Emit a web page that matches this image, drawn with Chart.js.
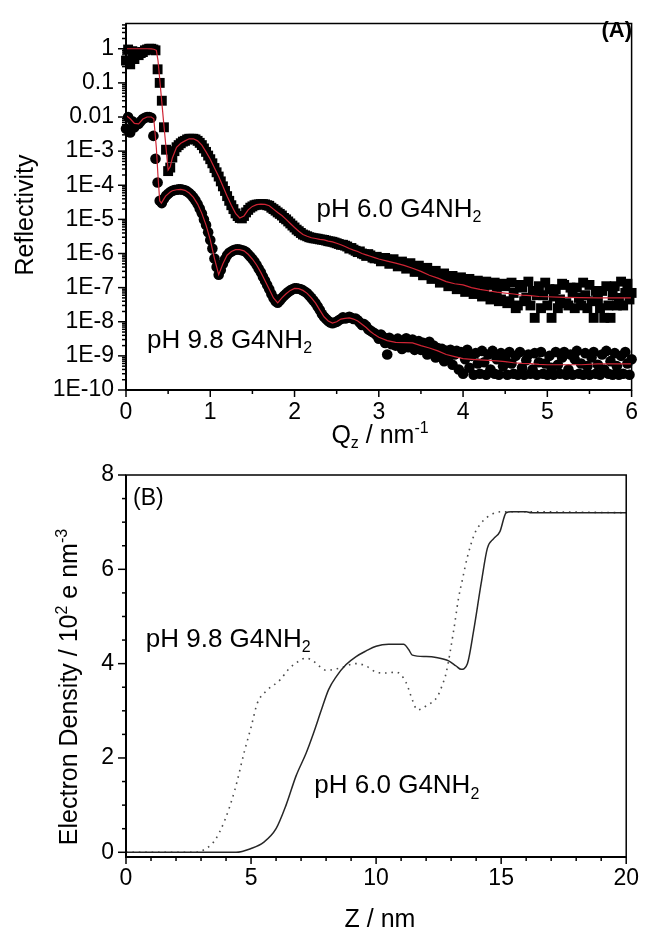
<!DOCTYPE html>
<html>
<head>
<meta charset="utf-8">
<script src="https://cdn.jsdelivr.net/npm/chart.js@4.4.1/dist/chart.umd.min.js"></script>
<style>
  html, body { margin: 0; padding: 0; background: #fff; }
  #wrap { position: relative; width: 649px; height: 930px; }
  canvas { position: absolute; left: 0; }
  #reflectivity { top: 0; }
  #density { top: 450px; }
</style>
</head>
<body>
<div id="wrap">
  <canvas id="reflectivity" width="649" height="450"></canvas>
  <canvas id="density" width="649" height="480"></canvas>
</div>
<script>
// ---- (A) reflectivity data: measured points (shared Q grid) ----
const qData = [
  0, 0.025, 0.05, 0.075, 0.1, 0.125, 0.15, 0.175, 0.2, 0.225,
  0.25, 0.275, 0.3, 0.325, 0.35, 0.375, 0.4, 0.425, 0.45, 0.475,
  0.5, 0.525, 0.55, 0.575, 0.6, 0.625, 0.65, 0.675, 0.7, 0.725,
  0.75, 0.775, 0.8, 0.825, 0.85, 0.875, 0.9, 0.925, 0.95, 0.975,
  1.0, 1.025, 1.05, 1.075, 1.1, 1.125, 1.15, 1.175, 1.2, 1.225,
  1.25, 1.275, 1.3, 1.325, 1.35, 1.375, 1.4, 1.425, 1.45, 1.475,
  1.5, 1.525, 1.55, 1.575, 1.6, 1.625, 1.65, 1.675, 1.7, 1.725,
  1.75, 1.775, 1.8, 1.825, 1.85, 1.875, 1.9, 1.925, 1.95, 1.975,
  2.0, 2.025, 2.05, 2.075, 2.1, 2.125, 2.15, 2.175, 2.2, 2.225,
  2.25, 2.275, 2.3, 2.325, 2.35, 2.375, 2.4, 2.425, 2.45, 2.475,
  2.5, 2.525, 2.55, 2.575, 2.6, 2.625, 2.65, 2.675, 2.7, 2.725,
  2.75, 2.775, 2.8, 2.825, 2.85, 2.875, 2.9, 2.925, 2.95, 2.975,
  3.0, 3.025, 3.05, 3.075, 3.1, 3.125, 3.15, 3.175, 3.2, 3.225,
  3.25, 3.275, 3.3, 3.325, 3.35, 3.375, 3.4, 3.425, 3.45, 3.475,
  3.5, 3.525, 3.55, 3.575, 3.6, 3.625, 3.65, 3.675, 3.7, 3.725,
  3.75, 3.775, 3.8, 3.825, 3.85, 3.875, 3.9, 3.925, 3.95, 3.975,
  4.0, 4.025, 4.05, 4.075, 4.1, 4.125, 4.15, 4.175, 4.2, 4.225,
  4.25, 4.275, 4.3, 4.325, 4.35, 4.375, 4.4, 4.425, 4.45, 4.475,
  4.5, 4.525, 4.55, 4.575, 4.6, 4.625, 4.65, 4.675, 4.7, 4.725,
  4.75, 4.775, 4.8, 4.825, 4.85, 4.875, 4.9, 4.925, 4.95, 4.975,
  5.0, 5.025, 5.05, 5.075, 5.1, 5.125, 5.15, 5.175, 5.2, 5.225,
  5.25, 5.275, 5.3, 5.325, 5.35, 5.375, 5.4, 5.425, 5.45, 5.475,
  5.5, 5.525, 5.55, 5.575, 5.6, 5.625, 5.65, 5.675, 5.7, 5.725,
  5.75, 5.775, 5.8, 5.825, 5.85, 5.875, 5.9, 5.925, 5.95, 5.975,
  6.0
];

const rData60 = [
  0.45, 0.95, 0.35, 0.85, 0.5, 0.8, 0.65, 0.75, 0.8, 0.9,
  0.95, 1.0, 1.0, 0.95, 0.9, 0.25, 0.1, 0.03, 5.0e-3, 1.1e-3,
  2.6e-4, 3.3e-4, 6.5e-4, 1.0e-3, 1.3e-3, 1.5e-3, 1.7e-3, 1.9e-3, 2.0e-3, 2.2e-3,
  2.3e-3, 2.3e-3, 2.3e-3, 2.2e-3, 2.0e-3, 1.75e-3, 1.5e-3, 1.2e-3, 9.5e-4, 7.4e-4,
  5.8e-4, 4.4e-4, 3.2e-4, 2.4e-4, 1.8e-4, 1.3e-4, 9.3e-5, 6.8e-5, 4.8e-5, 3.5e-5,
  2.6e-5, 2.0e-5, 1.5e-5, 1.25e-5, 1.1e-5, 1.07e-5, 1.26e-5, 1.6e-5, 1.9e-5, 2.2e-5,
  2.4e-5, 2.6e-5, 2.7e-5, 2.75e-5, 2.8e-5, 2.8e-5, 2.75e-5, 2.6e-5, 2.5e-5, 2.2e-5,
  2.0e-5, 1.8e-5, 1.6e-5, 1.45e-5, 1.3e-5, 1.1e-5, 1.0e-5, 8.7e-6, 7.6e-6, 6.6e-6,
  5.8e-6, 5.0e-6, 4.5e-6, 4.0e-6, 3.6e-6, 3.4e-6, 3.2e-6, 3.0e-6, 2.9e-6, 2.8e-6,
  2.75e-6, 2.7e-6, 2.6e-6, 2.55e-6, 2.5e-6, 2.4e-6, 2.3e-6, 2.25e-6, 2.2e-6, 2.1e-6,
  2.0e-6, 1.9e-6, 1.8e-6, 1.8e-6, 1.7e-6, 1.6e-6, 1.4e-6, 1.45e-6, 1.3e-6, 1.2e-6,
  1.1e-6, 1.15e-6, 1.0e-6, 9.5e-7, 8.5e-7, 9.6e-7, 8.8e-7, 7.6e-7, 7.2e-7, 8.0e-7,
  7.0e-7, 5.9e-7, 6.0e-7, 7.4e-7, 6.6e-7, 5.0e-7, 5.2e-7, 6.8e-7, 5.6e-7, 4.2e-7,
  4.4e-7, 5.8e-7, 5.0e-7, 3.6e-7, 3.9e-7, 5.2e-7, 4.2e-7, 2.9e-7, 3.0e-7, 4.4e-7,
  3.5e-7, 2.3e-7, 2.4e-7, 3.8e-7, 2.9e-7, 1.8e-7, 1.9e-7, 3.1e-7, 2.4e-7, 1.4e-7,
  1.5e-7, 2.6e-7, 2.0e-7, 1.1e-7, 1.2e-7, 2.2e-7, 1.7e-7, 9.0e-8, 1.0e-7, 2.0e-7,
  1.3e-7, 7.5e-8, 8.5e-8, 1.8e-7, 1.4e-7, 6.5e-8, 7.5e-8, 1.6e-7, 1.0e-7, 5.5e-8,
  6.5e-8, 1.5e-7, 1.2e-7, 4.5e-8, 5.5e-8, 1.4e-7, 8.0e-8, 4.0e-8, 4.5e-8, 1.3e-7,
  1.1e-7, 3.5e-8, 4.0e-8, 1.4e-7, 7.0e-8, 2.5e-8, 3.0e-8, 1.2e-7, 1.0e-7, 4.0e-8,
  5.0e-8, 1.5e-7, 3.0e-8, 8.0e-8, 1.3e-8, 6.0e-8, 1.1e-7, 2.5e-8, 6.0e-8, 1.4e-7,
  3.0e-8, 9.0e-8, 1.3e-8, 5.5e-8, 9.0e-8, 2.5e-8, 4.5e-8, 1.3e-7, 1.2e-7, 3.5e-8,
  3.0e-8, 1.0e-7, 7.0e-8, 2.5e-8, 1.0e-7, 5.0e-8, 3.0e-8, 1.4e-7, 6.0e-8, 2.5e-8,
  1.2e-7, 4.0e-8, 1.3e-8, 8.0e-8, 4.5e-8, 2.5e-8, 8.0e-8, 1.3e-8, 1.1e-7, 3.0e-8,
  1.3e-8, 6.0e-8, 1.1e-7, 3.0e-8, 5.0e-8, 1.5e-7, 3.0e-8, 7.0e-8, 1.3e-7, 4.5e-8,
  7.0e-8
];

const rData98 = [
  4.5e-3, 0.010, 3.5e-3, 7.5e-3, 5.0e-3, 6.0e-3, 6.3e-3, 7.5e-3, 8.7e-3, 9.5e-3,
  0.010, 0.010, 9.5e-3, 2.8e-3, 6.0e-4, 1.2e-4, 3.5e-5, 3.0e-5, 4.0e-5, 4.9e-5,
  5.6e-5, 6.3e-5, 6.9e-5, 7.2e-5, 7.4e-5, 7.6e-5, 7.6e-5, 7.4e-5, 7.1e-5, 6.6e-5,
  5.9e-5, 5.2e-5, 4.4e-5, 3.6e-5, 2.8e-5, 2.1e-5, 1.5e-5, 1.0e-5, 6.8e-6, 4.2e-6,
  2.5e-6, 1.4e-6, 7.1e-7, 4.0e-7, 2.4e-7, 3.3e-7, 5.0e-7, 6.8e-7, 8.9e-7, 1.05e-6,
  1.15e-6, 1.25e-6, 1.3e-6, 1.32e-6, 1.3e-6, 1.25e-6, 1.2e-6, 1.1e-6, 9.5e-7, 8.2e-7,
  6.9e-7, 5.7e-7, 4.6e-7, 3.6e-7, 2.8e-7, 2.1e-7, 1.6e-7, 1.2e-7, 8.9e-8, 6.5e-8,
  5.0e-8, 4.0e-8, 3.6e-8, 4.2e-8, 5.0e-8, 5.8e-8, 6.6e-8, 7.5e-8, 8.3e-8, 9.0e-8,
  9.5e-8, 9.5e-8, 9.3e-8, 8.9e-8, 8.3e-8, 7.6e-8, 6.8e-8, 5.9e-8, 5.0e-8, 4.2e-8,
  3.5e-8, 2.8e-8, 2.2e-8, 1.7e-8, 1.4e-8, 1.2e-8, 1.05e-8, 9.5e-9, 9.1e-9, 9.5e-9,
  1.0e-8, 1.1e-8, 1.2e-8, 1.35e-8, 1.25e-8, 1.3e-8, 1.4e-8, 1.3e-8, 1.2e-8, 1.25e-8,
  1.1e-8, 9.5e-9, 8.0e-9, 8.5e-9, 7.5e-9, 6.0e-9, 5.5e-9, 5.0e-9, 4.6e-9, 4.0e-9,
  3.2e-9, 4.2e-9, 3.6e-9, 2.4e-9, 1.1e-9, 3.4e-9, 2.2e-9, 2.9e-9, 2.0e-9, 3.2e-9,
  2.8e-9, 1.6e-9, 2.4e-9, 3.3e-9, 1.8e-9, 2.6e-9, 3.0e-9, 1.5e-9, 2.2e-9, 2.7e-9,
  1.5e-9, 2.4e-9, 1.9e-9, 1.1e-9, 2.6e-9, 1.4e-9, 2.0e-9, 9.0e-10, 1.7e-9, 1.2e-9,
  1.6e-9, 7.0e-10, 1.4e-9, 9.0e-10, 1.5e-9, 5.5e-10, 1.1e-9, 1.4e-9, 4.0e-10, 1.3e-9,
  3.0e-10, 8.0e-10, 1.5e-9, 4.5e-10, 1.0e-9, 2.8e-10, 1.2e-9, 6.0e-10, 3.0e-10, 1.4e-9,
  6.5e-10, 2.8e-10, 1.1e-9, 4.0e-10, 1.4e-9, 3.0e-10, 8.0e-10, 2.8e-10, 1.2e-9, 5.0e-10,
  9.0e-10, 2.8e-10, 1.3e-9, 6.0e-10, 3.0e-10, 1.0e-9, 2.8e-10, 1.3e-9, 4.5e-10, 2.8e-10,
  7.5e-10, 1.1e-9, 3.0e-10, 4.0e-10, 1.2e-9, 2.8e-10, 6.5e-10, 1.3e-9, 3.0e-10, 6.0e-10,
  2.8e-10, 1.0e-9, 4.5e-10, 2.8e-10, 1.3e-9, 5.5e-10, 3.0e-10, 9.0e-10, 1.3e-9, 2.8e-10,
  4.0e-10, 1.1e-9, 2.8e-10, 8.0e-10, 1.4e-9, 3.0e-10, 6.0e-10, 2.8e-10, 1.2e-9, 5.0e-10,
  2.8e-10, 9.0e-10, 1.3e-9, 3.0e-10, 5.5e-10, 2.8e-10, 1.1e-9, 4.0e-10, 1.4e-9, 3.0e-10,
  7.0e-10, 2.8e-10, 1.2e-9, 5.0e-10, 2.8e-10, 1.0e-9, 3.0e-10, 1.3e-9, 6.0e-10, 2.8e-10,
  8.0e-10
];

// ---- (A) model fits (red lines) ----
const qFit = [
  0, 0.05, 0.1, 0.15, 0.2, 0.25, 0.3, 0.33, 0.36, 0.38,
  0.4, 0.42, 0.45, 0.47, 0.5, 0.525, 0.55, 0.6, 0.65, 0.7,
  0.75, 0.8, 0.85, 0.9, 0.95, 1.0, 1.05, 1.1, 1.15, 1.2,
  1.25, 1.3, 1.35, 1.4, 1.45, 1.5, 1.55, 1.6, 1.65, 1.7,
  1.75, 1.8, 1.85, 1.9, 1.95, 2.0, 2.05, 2.1, 2.15, 2.2,
  2.25, 2.3, 2.35, 2.4, 2.45, 2.5, 2.55, 2.6, 2.65, 2.7,
  2.75, 2.8, 2.85, 2.9, 2.95, 3.0, 3.1, 3.2, 3.3, 3.4,
  3.5, 3.6, 3.7, 3.8, 3.9, 4.0, 4.1, 4.2, 4.3, 4.4,
  4.5, 4.6, 4.7, 4.8, 4.9, 5.0, 5.2, 5.4, 5.6, 5.8,
  6.0
];

const rFit60 = [
  1.0, 1.0, 1.0, 1.0, 1.0, 1.0, 0.99, 0.97, 0.9, 0.45,
  0.13, 0.037, 5.7e-3, 1.7e-3, 2.8e-4, 3.5e-4, 6.3e-4, 1.3e-3, 1.7e-3, 2.0e-3,
  2.3e-3, 2.3e-3, 2.0e-3, 1.5e-3, 9.5e-4, 5.8e-4, 3.2e-4, 1.8e-4, 9.3e-5, 4.8e-5,
  2.6e-5, 1.5e-5, 1.1e-5, 1.26e-5, 1.9e-5, 2.4e-5, 2.7e-5, 2.8e-5, 2.75e-5, 2.5e-5,
  2.0e-5, 1.6e-5, 1.3e-5, 1.0e-5, 7.6e-6, 5.8e-6, 4.5e-6, 3.6e-6, 3.2e-6, 2.9e-6,
  2.75e-6, 2.6e-6, 2.5e-6, 2.3e-6, 2.2e-6, 2.0e-6, 1.8e-6, 1.6e-6, 1.4e-6, 1.26e-6,
  1.15e-6, 1.0e-6, 9.1e-7, 8.3e-7, 7.6e-7, 6.9e-7, 6.0e-7, 5.2e-7, 4.5e-7, 3.7e-7,
  3.0e-7, 2.3e-7, 1.9e-7, 1.5e-7, 1.3e-7, 1.2e-7, 1.0e-7, 8.9e-8, 8.1e-8, 7.4e-8,
  6.9e-8, 6.5e-8, 6.0e-8, 5.8e-8, 5.5e-8, 5.4e-8, 5.2e-8, 5.1e-8, 5.0e-8, 5.0e-8,
  5.0e-8
];

const rFit98 = [
  0.011, 8.9e-3, 6.5e-3, 6.3e-3, 8.7e-3, 0.010, 0.010, 8.9e-3, 1.26e-3, 1.8e-4,
  3.5e-5, 3.0e-5, 4.0e-5, 4.8e-5, 5.6e-5, 6.3e-5, 6.9e-5, 7.4e-5, 7.6e-5, 7.1e-5,
  5.9e-5, 4.4e-5, 2.8e-5, 1.5e-5, 6.8e-6, 2.5e-6, 7.1e-7, 2.4e-7, 5.0e-7, 8.9e-7,
  1.15e-6, 1.3e-6, 1.3e-6, 1.2e-6, 9.5e-7, 6.9e-7, 4.6e-7, 2.8e-7, 1.6e-7, 8.9e-8,
  5.0e-8, 3.6e-8, 5.0e-8, 6.6e-8, 8.3e-8, 9.5e-8, 9.3e-8, 8.3e-8, 6.8e-8, 5.0e-8,
  3.5e-8, 2.2e-8, 1.4e-8, 1.05e-8, 9.1e-9, 1.0e-8, 1.2e-8, 1.26e-8, 1.3e-8, 1.2e-8,
  1.05e-8, 8.5e-9, 6.8e-9, 5.2e-9, 4.2e-9, 3.5e-9, 2.8e-9, 2.5e-9, 2.45e-9, 2.4e-9,
  2.0e-9, 1.7e-9, 1.4e-9, 1.1e-9, 9.5e-10, 8.3e-10, 7.9e-10, 7.6e-10, 7.4e-10, 7.1e-10,
  6.8e-10, 6.3e-10, 6.0e-10, 5.9e-10, 5.6e-10, 5.5e-10, 5.5e-10, 5.5e-10, 5.8e-10, 5.8e-10,
  5.8e-10
];

// ---- (B) electron density profiles ----
const zSolid = [0, 4.4, 5.0, 5.5, 6.0, 6.4, 6.8, 7.2, 7.5, 7.8,
  8.1, 8.4, 8.8, 9.2, 9.6, 10.0, 10.5, 11.1, 11.3, 11.45,
  12.0, 12.4, 12.9, 13.2, 13.4, 13.65, 13.9, 14.2, 14.45, 14.7,
  14.95, 15.2, 15.4, 16.0, 16.2, 20];
const rhoSolid = [0, 0, 0.08, 0.21, 0.5, 1.0, 1.62, 2.1, 2.53, 3.0,
  3.45, 3.72, 3.98, 4.15, 4.27, 4.37, 4.41, 4.41, 4.3, 4.18,
  4.15, 4.13, 4.06, 3.95, 3.88, 4.0, 4.7, 5.7, 6.45, 6.65,
  6.8, 7.2, 7.22, 7.22, 7.2, 7.2];

const zDotted = [0, 2.8, 3.2, 3.55, 3.95, 4.35, 4.75, 5.0, 5.25, 5.65,
  6.15, 6.5, 6.9, 7.2, 7.5, 8.0, 8.5, 9.2, 9.6, 10.0,
  10.4, 10.8, 11.2, 11.45, 11.65, 12.05, 12.45, 12.65, 12.8, 13.1,
  13.3, 13.45, 13.65, 13.95, 14.2, 14.45, 15.0, 16.0, 20];
const rhoDotted = [0, 0, 0.08, 0.25, 0.68, 1.32, 2.17, 2.65, 3.16, 3.44,
  3.65, 3.88, 4.05, 4.12, 4.05, 3.86, 3.9, 4.0, 3.95, 3.82,
  3.8, 3.82, 3.6, 3.23, 3.02, 3.12, 3.3, 3.55, 3.8, 4.7,
  5.4, 5.78, 6.26, 6.77, 6.98, 7.11, 7.22, 7.22, 7.2];

// ---- tick values / labels ----
const reflTicks = [1, 0.1, 0.01, 1e-3, 1e-4, 1e-5, 1e-6, 1e-7, 1e-8, 1e-9, 1e-10];
const reflLabels = ['1', '0.1', '0.01', '1E-3', '1E-4', '1E-5', '1E-6', '1E-7', '1E-8', '1E-9', '1E-10'];
const qTicks = [0, 1, 2, 3, 4, 5, 6];
const zTicks = [0, 5, 10, 15, 20];
const rhoTicks = [0, 2, 4, 6, 8];

const FONT = "'Liberation Sans', Arial, sans-serif";
const RED = '#cf2434';
Chart.defaults.font.family = FONT;
Chart.defaults.color = '#000';

const pts = (xs, ys) => xs.map((x, i) => ({ x, y: ys[i] }));

// minor tick positions (axis decoration only)
const logMinor = [];
for (let e = -10; e <= 0; e++) {
  for (let m = 2; m <= 9; m++) logMinor.push(m * Math.pow(10, e));
}
const minorSteps = (lo, hi, step, skip) => {
  const out = [];
  for (let v = lo; v <= hi + 1e-9; v += step) {
    const r = Math.round(v * 100) / 100;
    if (Math.abs(r / skip - Math.round(r / skip)) > 1e-6) out.push(r);
  }
  return out;
};

// draw text made of normal / sub / sup pieces
function drawRich(ctx, parts, size, weight, align) {
  const small = Math.round(size * 0.62);
  const fontFor = p => `${weight} ${p.s ? small : size}px ${FONT}`;
  let w = 0;
  parts.forEach(p => { ctx.font = fontFor(p); w += ctx.measureText(p.t).width; });
  let cx = align === 'center' ? -w / 2 : align === 'right' ? -w : 0;
  parts.forEach(p => {
    ctx.font = fontFor(p);
    const dy = p.s === 'sub' ? size * 0.2 : p.s === 'sup' ? -size * 0.42 : 0;
    ctx.fillText(p.t, cx, dy);
    cx += ctx.measureText(p.t).width;
  });
}

// box + major/minor tick marks
const axisFrame = ticks => ({
  id: 'axisFrame',
  afterDraw(chart) {
    const { ctx, chartArea: a, scales: { x, y } } = chart;
    ctx.save();
    ctx.strokeStyle = '#000';
    ctx.lineWidth = 1.5;
    ctx.strokeRect(a.left, a.top, a.right - a.left, a.bottom - a.top);
    ctx.lineWidth = 2;
    ctx.beginPath();
    ctx.moveTo(a.left, a.top);
    ctx.lineTo(a.left, a.bottom);
    ctx.lineTo(a.right, a.bottom);
    ctx.stroke();
    ctx.lineWidth = 1.5;
    const mark = (scale, values, len) => {
      values.forEach(v => {
        const p = scale.getPixelForValue(v);
        ctx.beginPath();
        if (scale.isHorizontal()) {
          ctx.moveTo(p, a.bottom);
          ctx.lineTo(p, a.bottom + len);
        } else {
          ctx.moveTo(a.left - len, p);
          ctx.lineTo(a.left, p);
        }
        ctx.stroke();
      });
    };
    mark(x, ticks.xMajor, 7);
    mark(x, ticks.xMinor, 4);
    mark(y, ticks.yMajor, 8);
    mark(y, ticks.yMinor, 4);
    ctx.restore();
  }
});

// titles and in-plot labels
const chartText = items => ({
  id: 'chartText',
  afterDraw(chart) {
    const { ctx, scales: { x, y } } = chart;
    ctx.save();
    ctx.fillStyle = '#000';
    ctx.textAlign = 'left';
    ctx.textBaseline = 'alphabetic';
    items.forEach(t => {
      const px = t.at ? x.getPixelForValue(t.at[0]) : t.px;
      const py = t.at ? y.getPixelForValue(t.at[1]) : t.py;
      ctx.save();
      ctx.translate(px, py);
      if (t.rotate) ctx.rotate(-Math.PI / 2);
      drawRich(ctx, t.parts, t.size, t.weight || 'normal', t.align || 'left');
      ctx.restore();
    });
    ctx.restore();
  }
});

const tickFont = { size: 23, lineHeight: 1 };
const ph60 = [{ t: 'pH 6.0 G4NH' }, { t: '2', s: 'sub' }];
const ph98 = [{ t: 'pH 9.8 G4NH' }, { t: '2', s: 'sub' }];

// ---------- (A) ----------
new Chart(document.getElementById('reflectivity'), {
  type: 'scatter',
  data: {
    datasets: [
      { label: 'fit pH 6.0', data: pts(qFit, rFit60), showLine: true, borderColor: RED,
        borderWidth: 1.2, pointRadius: 0, order: 0 },
      { label: 'fit pH 9.8', data: pts(qFit, rFit98), showLine: true, borderColor: RED,
        borderWidth: 1.2, pointRadius: 0, order: 1 },
      { label: 'pH 9.8 G4NH2', data: pts(qData, rData98), pointStyle: 'circle', pointRadius: 5.3,
        backgroundColor: '#000', borderWidth: 0, clip: false, order: 2 },
      { label: 'pH 6.0 G4NH2', data: pts(qData, rData60), pointStyle: 'rect', pointRadius: 7,
        backgroundColor: '#000', borderWidth: 0, clip: false, order: 3 }
    ]
  },
  options: {
    responsive: false,
    animation: false,
    devicePixelRatio: 1,
    layout: { padding: { left: 0, right: 14, top: 12, bottom: 0 } },
    plugins: { legend: { display: false }, tooltip: { enabled: false } },
    scales: {
      x: {
        type: 'linear', min: 0, max: 6,
        grid: { display: false, drawTicks: false },
        border: { display: false },
        afterBuildTicks: s => { s.ticks = qTicks.map(v => ({ value: v })); },
        afterFit: s => { s.height = 60; },
        ticks: { font: tickFont, color: '#000', padding: 11, autoSkip: false, maxRotation: 0,
          callback: v => String(v) }
      },
      y: {
        type: 'logarithmic', min: 1e-10, max: 5.5,
        grid: { display: false, drawTicks: false },
        border: { display: false },
        afterBuildTicks: s => { s.ticks = reflTicks.map(v => ({ value: v })); },
        afterFit: s => { s.width = 126; },
        ticks: { font: tickFont, color: '#000', padding: 12, autoSkip: false,
          callback: v => { const i = reflTicks.indexOf(v); return i >= 0 ? reflLabels[i] : ''; } }
      }
    }
  },
  plugins: [
    axisFrame({ xMajor: qTicks, xMinor: [0.5, 1.5, 2.5, 3.5, 4.5, 5.5],
      yMajor: reflTicks, yMinor: logMinor.filter(v => v < 5.5) }),
    chartText([
      { parts: ph60, at: [2.26, 1.2e-5], size: 26 },
      { parts: ph98, at: [0.25, 1.7e-9], size: 26 },
      { parts: [{ t: '(A)' }], px: 632, py: 37, size: 22, weight: 'bold', align: 'right' },
      { parts: [{ t: 'Reflectivity' }], px: 33, py: 215, size: 25, rotate: true, align: 'center' },
      { parts: [{ t: 'Q' }, { t: 'z', s: 'sub' }, { t: ' / nm' }, { t: '-1', s: 'sup' }],
        px: 380, py: 443, size: 25, align: 'center' }
    ])
  ]
});

// ---------- (B) ----------
new Chart(document.getElementById('density'), {
  type: 'scatter',
  data: {
    datasets: [
      { label: 'pH 6.0 G4NH2', data: pts(zSolid, rhoSolid), showLine: true, borderColor: '#262626',
        borderWidth: 1.5, pointRadius: 0, cubicInterpolationMode: 'monotone', order: 0 },
      { label: 'pH 9.8 G4NH2', data: pts(zDotted, rhoDotted), showLine: true, borderColor: '#4a4a4a',
        borderWidth: 1.6, borderDash: [1.6, 4.8], pointRadius: 0, cubicInterpolationMode: 'monotone', order: 1 }
    ]
  },
  options: {
    responsive: false,
    animation: false,
    devicePixelRatio: 1,
    layout: { padding: { left: 0, right: 15, top: 25, bottom: 0 } },
    plugins: { legend: { display: false }, tooltip: { enabled: false } },
    scales: {
      x: {
        type: 'linear', min: 0, max: 20,
        grid: { display: false, drawTicks: false },
        border: { display: false },
        afterBuildTicks: s => { s.ticks = zTicks.map(v => ({ value: v })); },
        afterFit: s => { s.height = 73; },
        ticks: { font: tickFont, color: '#000', padding: 10, autoSkip: false, maxRotation: 0,
          callback: v => String(v) }
      },
      y: {
        type: 'linear', min: -0.1, max: 8,
        grid: { display: false, drawTicks: false },
        border: { display: false },
        afterBuildTicks: s => { s.ticks = rhoTicks.map(v => ({ value: v })); },
        afterFit: s => { s.width = 126; },
        ticks: { font: tickFont, color: '#000', padding: 12, autoSkip: false,
          callback: v => String(v) }
      }
    }
  },
  plugins: [
    axisFrame({ xMajor: zTicks, xMinor: minorSteps(1, 19, 1, 5),
      yMajor: rhoTicks, yMinor: minorSteps(0.5, 7.5, 0.5, 2) }),
    chartText([
      { parts: ph98, at: [0.79, 4.35], size: 26 },
      { parts: ph60, at: [7.53, 1.25], size: 26 },
      { parts: [{ t: '(B)' }], px: 133, py: 55, size: 23 },
      { parts: [{ t: 'Electron Density / 10' }, { t: '2', s: 'sup' }, { t: ' e nm' }, { t: '-3', s: 'sup' }],
        px: 77, py: 237, size: 25, rotate: true, align: 'center' },
      { parts: [{ t: 'Z / nm' }], px: 380, py: 477, size: 25, align: 'center' }
    ])
  ]
});
</script>
</body>
</html>
